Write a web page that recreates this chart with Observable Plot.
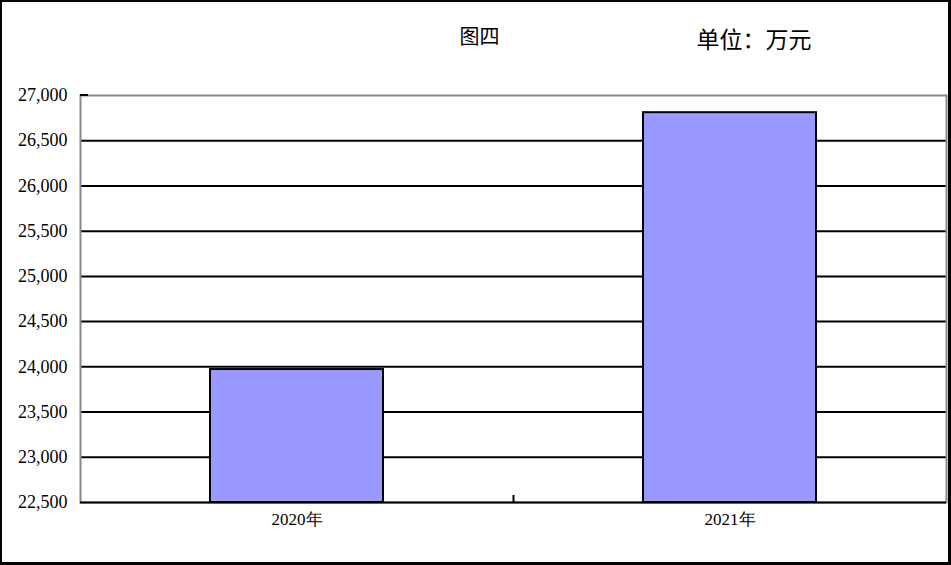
<!DOCTYPE html>
<html>
<head>
<meta charset="utf-8">
<script src="https://cdn.jsdelivr.net/npm/d3@7"></script>
<script src="https://cdn.jsdelivr.net/npm/@observablehq/plot@0.6"></script>
<style>
  html, body { margin: 0; padding: 0; background: #fff; }
  #chart { position: relative; width: 951px; height: 565px; }
  #chart::after { content: ""; position: absolute; left: 0; top: 0; width: 951px; height: 565px; box-sizing: border-box; border: 2px solid #000; border-right-width: 3px; border-bottom-width: 3px; pointer-events: none; }
  svg { display: block; }
</style>
</head>
<body>
<div id="chart"></div>
<script>
const categories = ["2020年", "2021年"];
const values = [23970, 26810];
const yTicks = [22500, 23000, 23500, 24000, 24500, 25000, 25500, 26000, 26500, 27000];
const title = "图四";
const unit = "单位：万元";

const data = categories.map((c, i) => ({category: c, value: values[i]}));
const serifFont = "Liberation Serif";
const cjkFont = "Noto Sans CJK SC";
const yMin = yTicks[0], yMax = yTicks[yTicks.length - 1];
const fmt = d3.format(",");

function bandBoundaryTicks(index, scales, values, dimensions) {
  const x = scales.x;
  const g = d3.create("svg:g");
  const bottom = dimensions.height - dimensions.marginBottom;
  const xs = scales.scales.x;
  const step = xs.step, bw = xs.bandwidth;
  for (let i = 1; i < categories.length; i++) {
    const bx = Math.round(x(categories[i]) - (step - bw) / 2) + 0.5;
    g.append("line").attr("x1", bx).attr("x2", bx).attr("y1", bottom - 7).attr("y2", bottom)
      .attr("stroke", "#000").attr("stroke-width", 2);
  }
  const ty = scales.y(yMax);
  g.append("line").attr("x1", dimensions.marginLeft).attr("x2", dimensions.marginLeft + 8)
    .attr("y1", ty).attr("y2", ty).attr("stroke", "#000").attr("stroke-width", 2);
  return g.node();
}

const chart = Plot.plot({
  width: 951,
  height: 565,
  marginTop: 95,
  marginBottom: 63,
  marginLeft: 80,
  marginRight: 5,
  style: {color: "#000", background: "#fff", overflow: "visible"},
  x: {domain: categories, paddingInner: 0.6, paddingOuter: 0.3, axis: null},
  y: {domain: [yMin, yMax], axis: null},
  marks: [
    Plot.gridY(yTicks.slice(1, -1), {stroke: "#000", strokeOpacity: 1, strokeWidth: 2}),
    Plot.frame({stroke: "#888", strokeWidth: 2}),
    Plot.barY(data, {x: "category", y1: yMin, y2: "value", fill: "#9999ff", stroke: "#000", strokeWidth: 2}),
    Plot.ruleY([yMin], {stroke: "#000", strokeWidth: 2}),
    Plot.ruleX([yMin], {x: () => null, stroke: "#000", strokeWidth: 2, frameAnchor: "left"}),
    Plot.text(yTicks, {y: d => d, text: d => fmt(d), frameAnchor: "left", dx: -13, textAnchor: "end", fontSize: 18, fontFamily: serifFont, fill: "#000"}),
    Plot.text(categories, {x: d => d, text: d => d, frameAnchor: "bottom", dy: 22, fontSize: 17, fontFamily: serifFont, fill: "#000"}),
    bandBoundaryTicks,
    Plot.text([title], {text: d => d, frameAnchor: "top", dy: -66, dx: -34, fontSize: 20, fontFamily: cjkFont}),
    Plot.text([unit], {text: d => d, frameAnchor: "top-right", dy: -64, dx: -135, fontSize: 23, textAnchor: "end", fontFamily: cjkFont})
  ]
});
document.getElementById("chart").appendChild(chart);
</script>
</body>
</html>
